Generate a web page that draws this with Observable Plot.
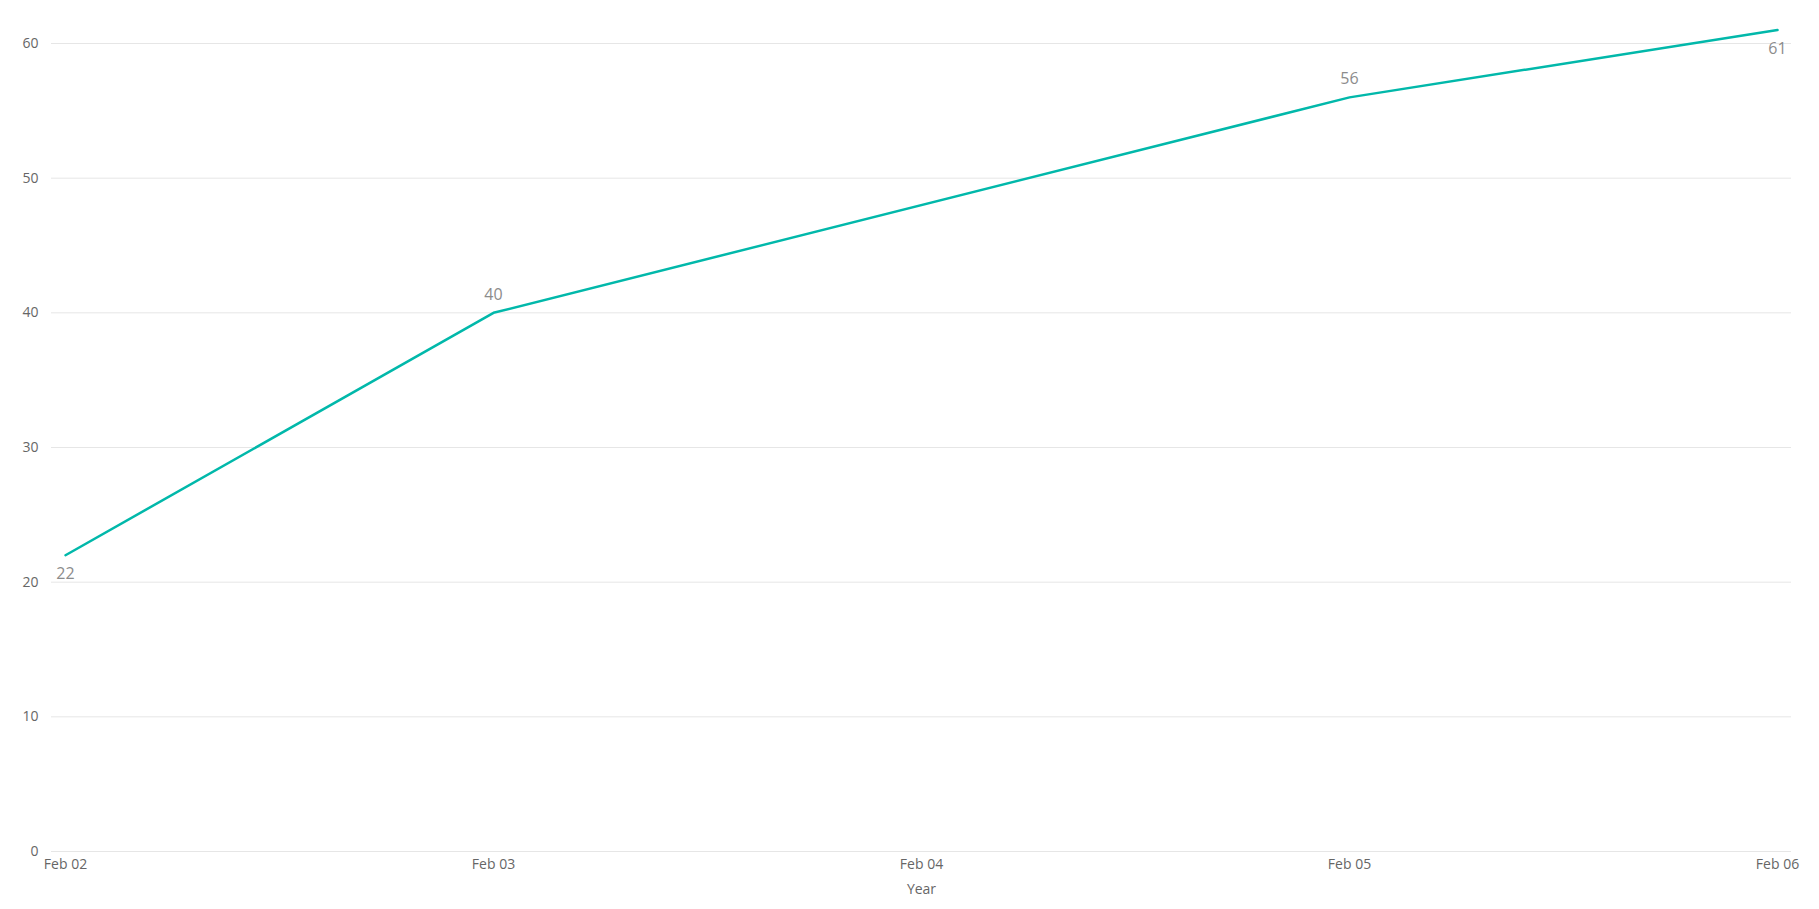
<!DOCTYPE html>
<html>
<head>
<meta charset="utf-8">
<script src="https://cdn.jsdelivr.net/npm/d3@7"></script>
<script src="https://cdn.jsdelivr.net/npm/@observablehq/plot@0.6"></script>
<style>
  html, body { margin: 0; padding: 0; background: #fff; }
  #chart svg { display: block; }
</style>
</head>
<body>
<div id="chart"></div>
<script>
// Data
const dates = ["2023-02-02", "2023-02-03", "2023-02-05", "2023-02-06"];
const values = [22, 40, 56, 61];
const tickDates = ["2023-02-02", "2023-02-03", "2023-02-04", "2023-02-05", "2023-02-06"];
const yTicks = [0, 10, 20, 30, 40, 50, 60];
const xLabel = "Year";

const data = dates.map((d, i) => ({date: new Date(d + "T00:00:00Z"), value: values[i], i}));
const n = data.length;
const below = data.filter(d => d.i === 0 || d.i === n - 1);
const above = data.filter(d => d.i !== 0 && d.i !== n - 1);

const fmt = d3.utcFormat("%b %d");

const chart = Plot.plot({
  width: 1819,
  height: 909,
  marginLeft: 51,
  marginRight: 28,
  marginTop: 43,
  marginBottom: 58,
  style: {fontFamily: "'Segoe UI', 'Open Sans', 'Noto Sans', sans-serif", fontSize: "14px", color: "#666"},
  x: {type: "utc", inset: 14, domain: [new Date(tickDates[0] + "T00:00:00Z"), new Date(tickDates[tickDates.length - 1] + "T00:00:00Z")]},
  y: {domain: [0, 60]},
  marks: [
    Plot.gridY(yTicks, {stroke: "#e6e6e6", strokeOpacity: 1}),
    Plot.axisY(yTicks, {tickSize: 0, tickPadding: 13, label: null, fill: "#666", fontSize: 14}),
    Plot.axisX(tickDates.map(d => new Date(d + "T00:00:00Z")), {
      tickSize: 0, tickPadding: 8, tickFormat: fmt, fill: "#666", fontSize: 14,
      label: xLabel, labelAnchor: "center", labelArrow: "none", labelOffset: 42
    }),
    Plot.line(data, {x: "date", y: "value", stroke: "#01B8AA", strokeWidth: 2.5}),
    Plot.text(above, {x: "date", y: "value", text: d => String(d.value), dy: -18, fill: "#8c8c8c", fontSize: 16}),
    Plot.text(below, {x: "date", y: "value", text: d => String(d.value), dy: 19, fill: "#8c8c8c", fontSize: 16})
  ]
});
document.getElementById("chart").appendChild(chart);
</script>
</body>
</html>
